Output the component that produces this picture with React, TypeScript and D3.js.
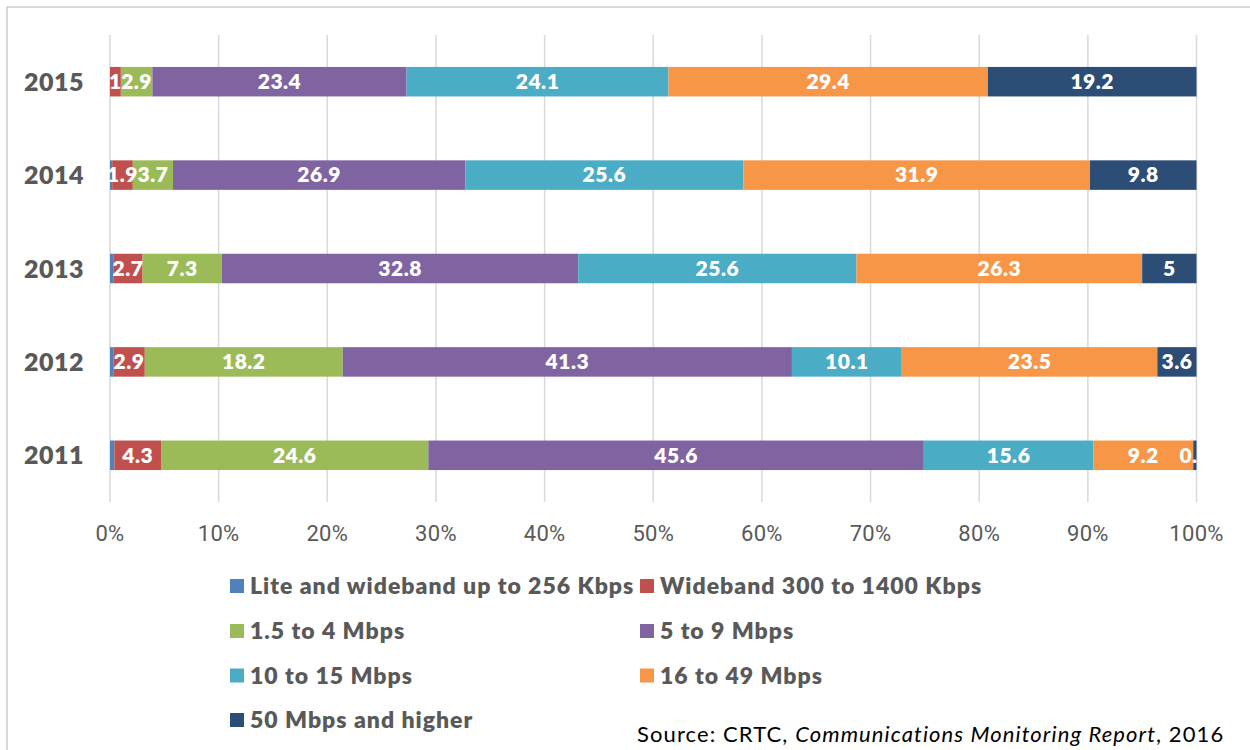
import React from "react";
import * as d3 from "d3";

// Share of broadband subscriptions by advertised download speed, per year
const years = ["2015", "2014", "2013", "2012", "2011"];
const seriesNames = [
  "Lite and wideband up to 256 Kbps",
  "Wideband 300 to 1400 Kbps",
  "1.5 to 4 Mbps",
  "5 to 9 Mbps",
  "10 to 15 Mbps",
  "16 to 49 Mbps",
  "50 Mbps and higher",
];
const seriesColors = ["#4F81BD", "#C0504D", "#9BBB59", "#8064A2", "#4BACC6", "#F79646", "#2C4D75"];

const liteUpTo256 = [0, 0.2, 0.3, 0.3, 0.4];
const wideband300to1400 = [1, 1.9, 2.7, 2.9, 4.3];
const mbps1_5to4 = [2.9, 3.7, 7.3, 18.2, 24.6];
const mbps5to9 = [23.4, 26.9, 32.8, 41.3, 45.6];
const mbps10to15 = [24.1, 25.6, 25.6, 10.1, 15.6];
const mbps16to49 = [29.4, 31.9, 26.3, 23.5, 9.2];
const mbps50plus = [19.2, 9.8, 5, 3.6, 0.3];
const seriesValues = [liteUpTo256, wideband300to1400, mbps1_5to4, mbps5to9, mbps10to15, mbps16to49, mbps50plus];
// the smallest speed tier carries no value label
const seriesLabelled = [false, true, true, true, true, true, true];

const xTicks = [0, 0.1, 0.2, 0.3, 0.4, 0.5, 0.6, 0.7, 0.8, 0.9, 1];

const W = 1250;
const H = 750;
const plot = { left: 110, right: 1196.5, top: 35, bottom: 502 };
const boldFont = "Lato, 'Open Sans', sans-serif";
const grey = "#595959";

export default function App() {
  const keys = seriesNames.map((_, i) => `s${i}`);
  const rows = years.map((y, r) => {
    const o: Record<string, any> = { year: y };
    keys.forEach((k, i) => (o[k] = seriesValues[i][r]));
    return o;
  });
  const stacked = d3.stack<any>().keys(keys).offset(d3.stackOffsetExpand)(rows);

  const x = d3.scaleLinear().domain([0, 1]).range([plot.left, plot.right]);
  const y = d3.scaleBand<string>().domain(years).range([plot.top, plot.bottom]).paddingInner(0.684).paddingOuter(0.342);
  const bh = y.bandwidth();

  const legendCols = [230, 640];
  const legendRows = [586, 631, 675.5, 720];

  return (
    <svg
      width={W}
      height={H}
      style={{ position: "absolute", left: 0, top: 0, background: "#fff" }}
    >
      <rect x={0} y={0} width={W} height={H} fill="#fff" />
      <rect x={7} y={7} width={W + 20} height={H + 20} fill="none" stroke="#d9d9d9" strokeWidth={2} />

      {/* vertical gridlines */}
      {xTicks.map((t) => (
        <line key={t} x1={x(t)} x2={x(t)} y1={plot.top} y2={plot.bottom} stroke="#d9d9d9" strokeWidth={1.5} />
      ))}

      {/* stacked bars */}
      {stacked.map((layer, si) => (
        <g key={layer.key} fill={seriesColors[si]}>
          {layer.map((d, ri) => {
            const x0 = x(d[0]);
            const x1 = x(d[1]);
            return (
              <rect key={ri} x={x0} y={y(years[ri])!} width={Math.max(0, x1 - x0)} height={bh} />
            );
          })}
        </g>
      ))}

      {/* value labels */}
      {stacked.map((layer, si) =>
        seriesLabelled[si]
          ? layer.map((d, ri) => (
              <text
                key={`${si}-${ri}`}
                x={(x(d[0]) + x(d[1])) / 2}
                y={y(years[ri])! + bh / 2}
                dy="0.35em"
                textAnchor="middle"
                fill="#fff"
                fontFamily={boldFont}
                fontWeight={800}
                fontSize={21}
                letterSpacing={0.5}
              >
                {String(seriesValues[si][ri])}
              </text>
            ))
          : null
      )}

      {/* year labels */}
      {years.map((yr) => (
        <text
          key={yr}
          x={84}
          y={y(yr)! + bh / 2}
          dy="0.36em"
          textAnchor="end"
          fill={grey}
          fontFamily={boldFont}
          fontWeight={800}
          fontSize={25}
          letterSpacing={0.5}
        >
          {yr}
        </text>
      ))}

      {/* x axis tick labels */}
      {xTicks.map((t) => (
        <text
          key={t}
          x={x(t)}
          y={541}
          textAnchor="middle"
          fill={grey}
          fontFamily="Roboto, sans-serif"
          fontSize={22}
          letterSpacing={0.3}
        >
          {d3.format(".0%")(t)}
        </text>
      ))}

      {/* legend */}
      {seriesNames.map((name, i) => {
        const lx = legendCols[i % 2];
        const ly = legendRows[Math.floor(i / 2)];
        return (
          <g key={name}>
            <rect x={lx} y={ly - 7} width={14} height={14} fill={seriesColors[i]} />
            <text
              x={lx + 20}
              y={ly}
              dy="0.36em"
              fill={grey}
              fontFamily={boldFont}
              fontWeight={800}
              fontSize={23}
              letterSpacing={1}
            >
              {name}
            </text>
          </g>
        );
      })}

      {/* source note */}
      <text x={637} y={742} fill="#000" fontFamily="Lato, sans-serif" fontSize={22} letterSpacing={1.1}>
        <tspan>Source: CRTC, </tspan>
        <tspan fontStyle="italic">Communications Monitoring Report</tspan>
        <tspan>, 2016</tspan>
      </text>
    </svg>
  );
}
